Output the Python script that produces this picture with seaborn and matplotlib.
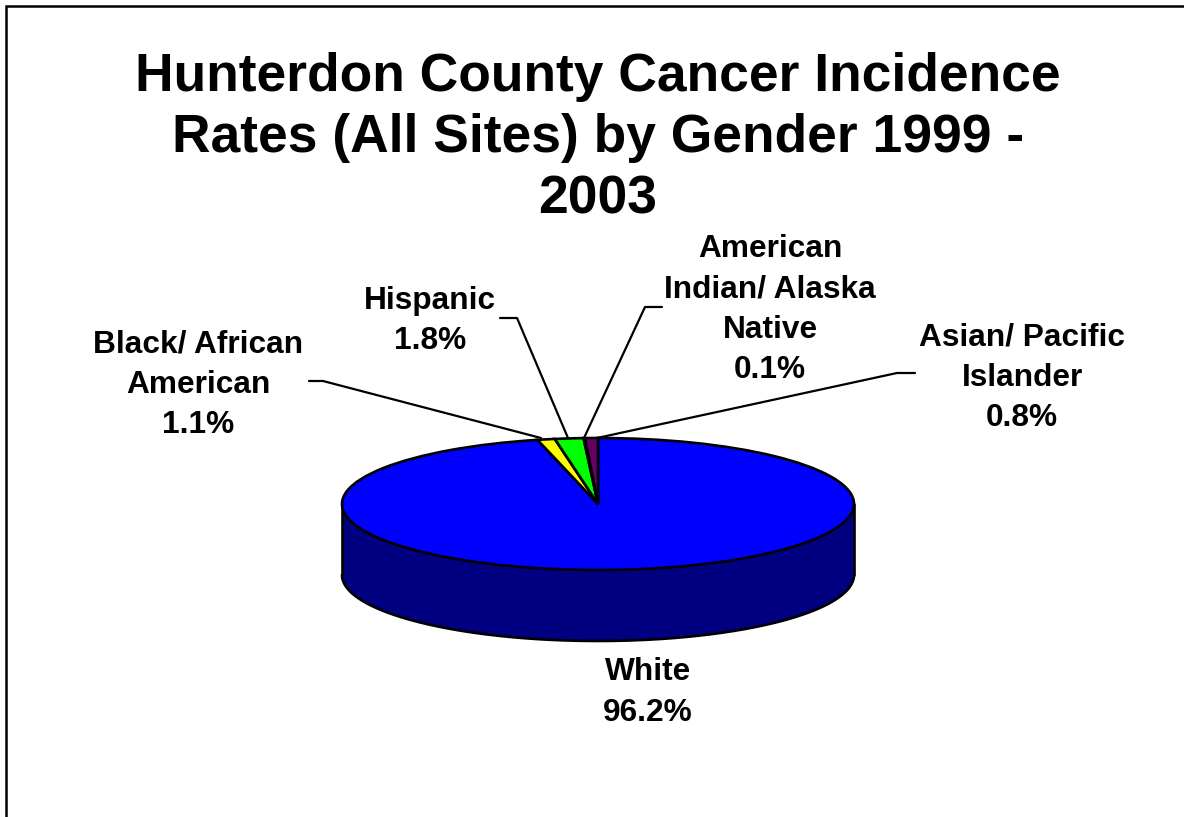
import numpy as np
import matplotlib
matplotlib.use("Agg")
import matplotlib.pyplot as plt
import seaborn as sns

categories = ["White", "Black/ African\nAmerican", "Hispanic",
              "American\nIndian/ Alaska\nNative", "Asian/ Pacific\nIslander"]
values = [96.2, 1.1, 1.8, 0.1, 0.8]
colors = ["#0000FF", "#FFFF00", "#00FF00", "#00FFFF", "#660066"]
wall_color = "#000080"
title = "Hunterdon County Cancer Incidence\nRates (All Sites) by Gender 1999 -\n2003"

W, H = 1184, 817
sns.set_theme(style="white")
plt.rcParams["font.family"] = ["Liberation Sans", "DejaVu Sans"]
plt.rcParams["font.weight"] = "bold"

fig = plt.figure(figsize=(W / 100, H / 100), dpi=100, facecolor="white")

# pie axes: one unit is the ellipse radius (256 px wide, 66 px tall)
cx, cy, rx, ry, depth = 598, 504, 256, 66, 71
xspan, yspan = 1.2, 3.0
ax = fig.add_axes([(cx - xspan * rx) / W, 1 - (cy + yspan * ry) / H,
                   2 * xspan * rx / W, 2 * yspan * ry / H])
ax.patch.set_alpha(0)

t = np.linspace(np.pi, 2 * np.pi, 300)
d = depth / ry
ax.fill_between(np.cos(t), np.sin(t), np.sin(t) - d, color=wall_color, lw=0, zorder=0)
ax.plot(np.cos(t), np.sin(t) - d, color="black", lw=1.9, zorder=1)
ax.plot([-1, -1], [0, -d], color="black", lw=1.9, zorder=1)
ax.plot([1, 1], [0, -d], color="black", lw=1.9, zorder=1)

ax.pie(values, colors=colors, startangle=90, counterclock=False, radius=1,
       wedgeprops=dict(edgecolor="black", linewidth=1.9, zorder=2))
ax.set_aspect("auto")
ax.set_xlim(-xspan, xspan)
ax.set_ylim(-yspan, yspan)
ax.axis("off")

# overlay in pixel coordinates for text, leaders and the slide border
ov = fig.add_axes([0, 0, 1, 1])
ov.set_xlim(0, W)
ov.set_ylim(H, 0)
ov.axis("off")
ov.patch.set_alpha(0)

ov.plot([6, 6, W], [H, 6, 6], color="black", lw=1.8, solid_joinstyle="miter")

ov.text(598, 138, title, ha="center", va="center", fontsize=38.4,
        fontweight="bold", color="black", linespacing=1.29)

label_pos = [(648, 692.5), (198, 385), (430, 321), (770, 309.5), (1022, 378)]
leaders = [None,
           [(309, 381), (323, 381), (541, 438)],
           [(500, 318), (517, 318), (568, 438)],
           [(662, 307), (645, 307), (584, 438)],
           [(915, 373), (897, 373), (597, 438)]]
for name, val, (x, y), leader in zip(categories, values, label_pos, leaders):
    ov.text(x, y, f"{name}\n{val:.1f}%", ha="center", va="center", fontsize=22.8,
            fontweight="bold", color="black", linespacing=1.45)
    if leader:
        xs, ys = zip(*leader)
        ov.plot(xs, ys, color="black", lw=1.6)

fig.savefig("out.png", dpi=100, facecolor="white")
